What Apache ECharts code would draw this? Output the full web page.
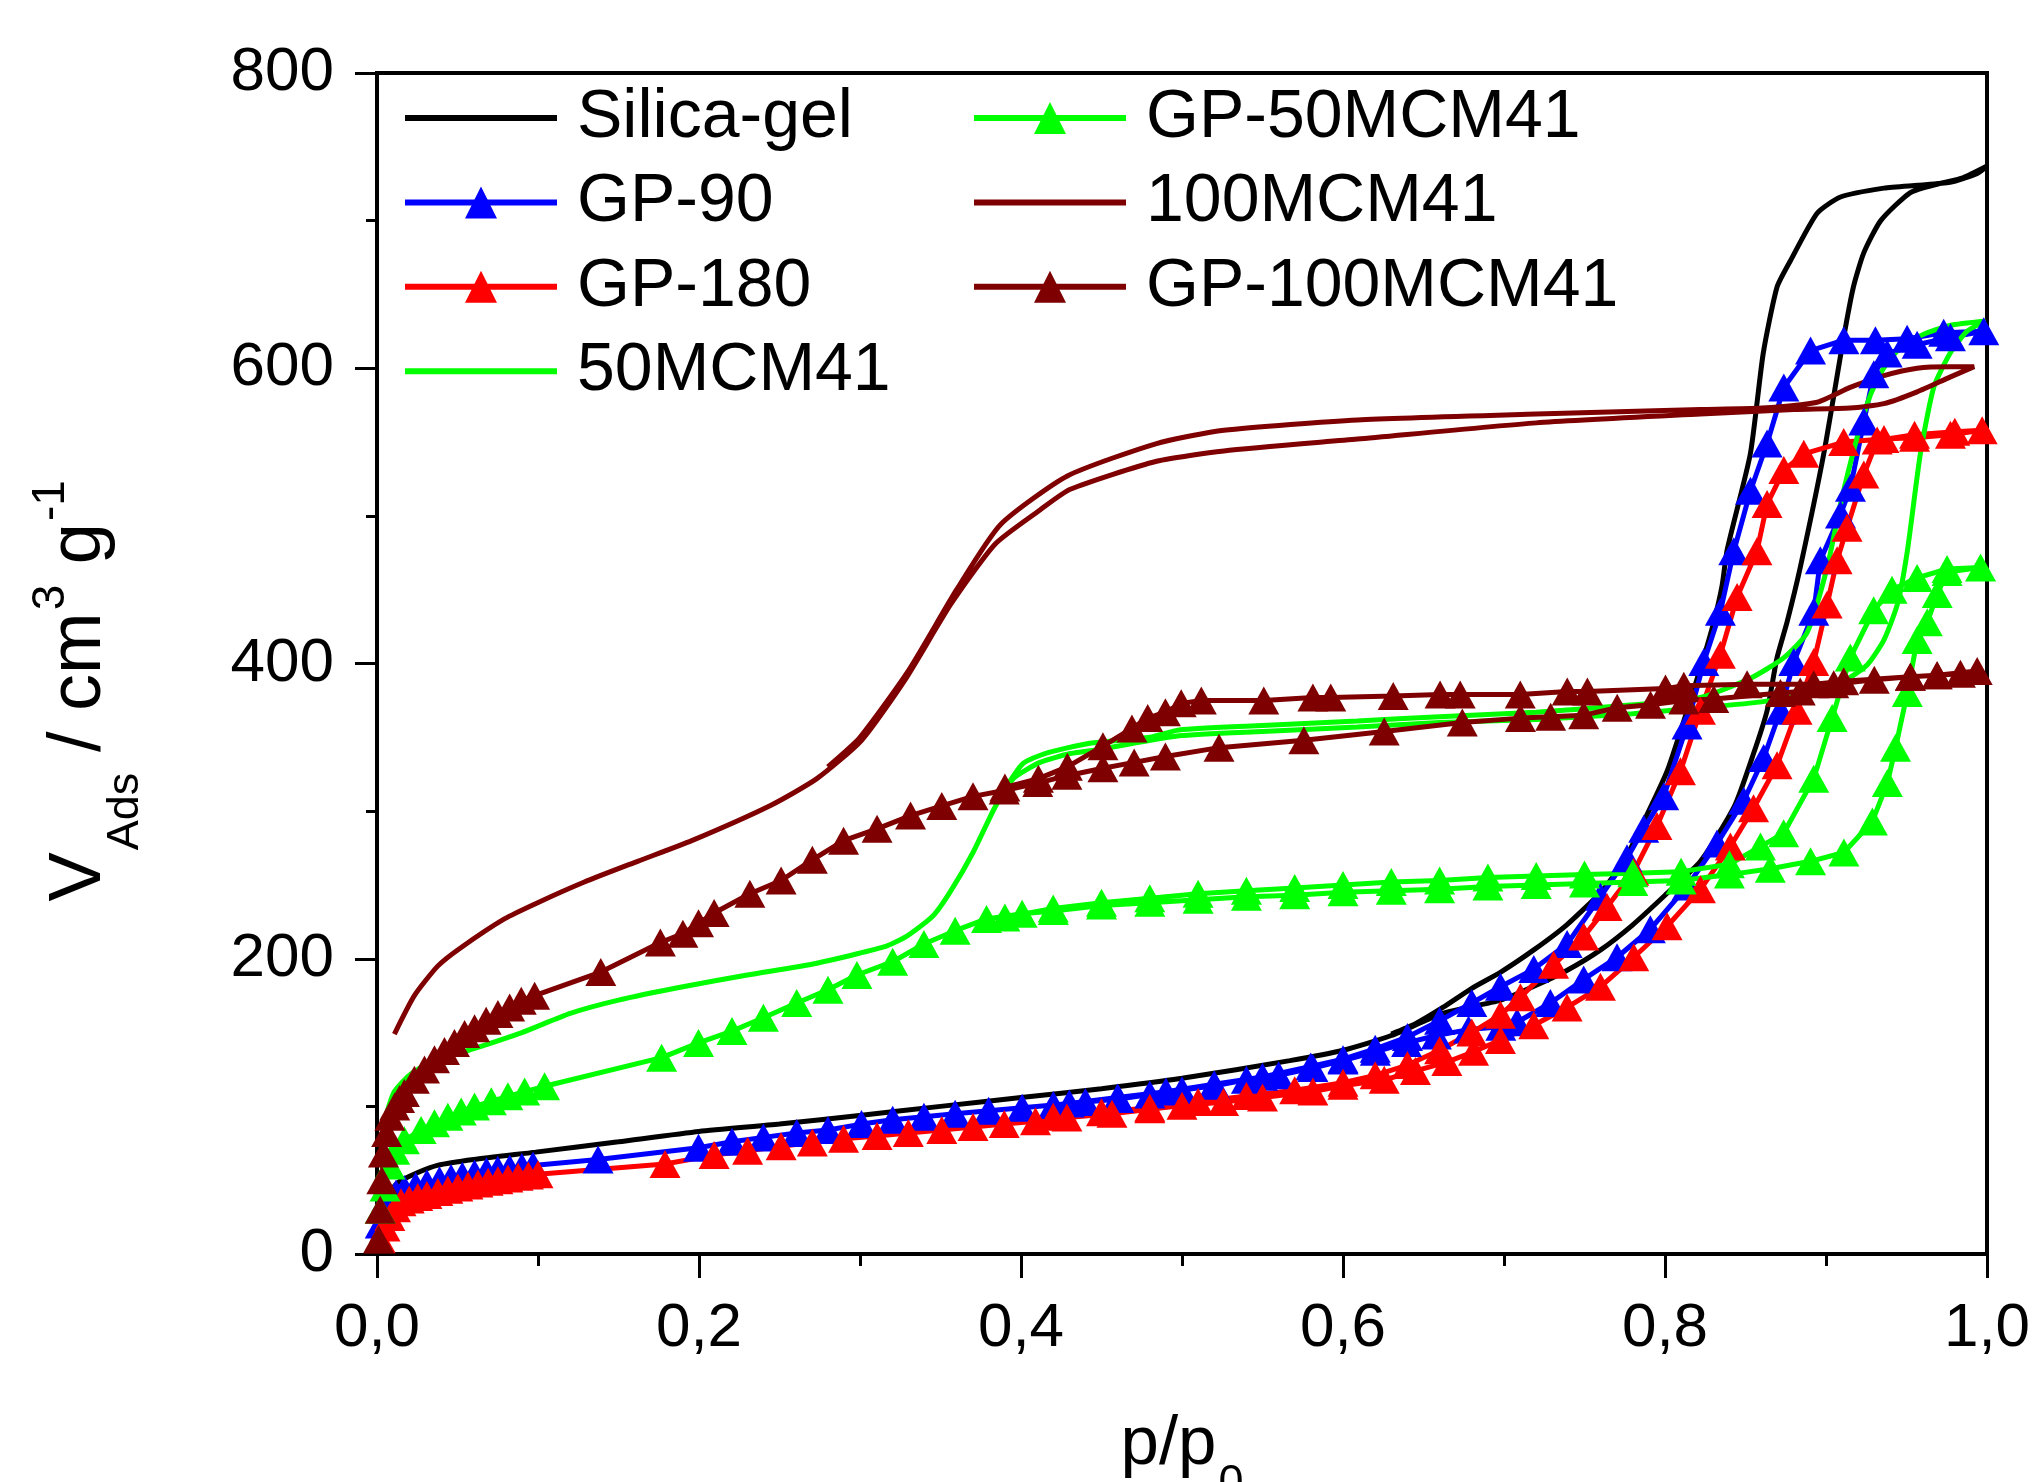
<!DOCTYPE html>
<html>
<head>
<meta charset="utf-8">
<script src="https://cdn.jsdelivr.net/npm/echarts@6/dist/echarts.min.js"></script>
<style>
html,body{margin:0;padding:0;background:#fff;}
#chart{width:2036px;height:1482px;}
</style>
</head>
<body>
<div id="chart"></div>
<script>
// ---------- tick labels ----------
const xTickValues = [0, 0.2, 0.4, 0.6, 0.8, 1.0];
const xTickLabels = ['0,0', '0,2', '0,4', '0,6', '0,8', '1,0'];
const yTickValues = [0, 200, 400, 600, 800];
const yTickLabels = ['0', '200', '400', '600', '800'];

// ---------- series names ----------
const legendCol1 = ['Silica-gel', 'GP-90', 'GP-180', '50MCM41'];
const legendCol2 = ['GP-50MCM41', '100MCM41', 'GP-100MCM41'];
const lineOnlyNames = ['Silica-gel', '50MCM41', '100MCM41'];

// ---------- data: [p/p0, V_ads] ----------
// Silica-gel (line)
const silicaGelAds = [[0.003,25],[0.006,38],[0.0125,48],[0.025,55],[0.0375,60],[0.06,64],[0.0985,69],[0.15,76],[0.2,83],[0.25,88],[0.301,94],[0.35,100],[0.4,106],[0.45,112],[0.5,119],[0.567,131],[0.6,138],[0.63,148],[0.662,163],[0.698,172],[0.72,182],[0.739,192],[0.76,206],[0.78,223],[0.80,243],[0.822,266],[0.843,303],[0.855,339],[0.8634,368],[0.8696,404],[0.8758,428],[0.884,465],[0.8986,542],[0.911,621],[0.917,655],[0.9234,678],[0.934,700],[0.9524,719],[0.97,725],[0.985,729],[1.0,737]];
const silicaGelDes = [[0.994,732],[0.977,726],[0.957,724],[0.936,722],[0.909,716],[0.8945,705],[0.878,673],[0.8696,655],[0.861,610],[0.853,542],[0.8386,477],[0.8355,453],[0.8303,428],[0.824,404],[0.8137,368],[0.8013,327],[0.7868,293],[0.7744,266],[0.76,245],[0.739,223],[0.7185,206],[0.698,191],[0.68,180],[0.662,167],[0.645,156],[0.63,149]];

// GP-90 (triangles)
const gp90Ads = [[0.002,20],[0.005,30],[0.008,36],[0.0118,41],[0.017,44],[0.024,46],[0.031,48],[0.0388,50],[0.046,51.5],[0.053,53],[0.0606,54.5],[0.068,56],[0.075,57],[0.0824,58],[0.09,59],[0.0969,60],[0.1373,64],[0.1997,72],[0.2205,76],[0.24,79],[0.2607,82],[0.2801,84],[0.3009,88],[0.3203,91],[0.3397,93],[0.3591,95],[0.3799,97],[0.4007,99],[0.4201,101],[0.44,103],[0.4607,105],[0.48,108],[0.5,111],[0.5203,114],[0.54,118],[0.56,121],[0.5813,126],[0.60,131],[0.6201,137],[0.6395,143],[0.658,148],[0.678,152],[0.698,154],[0.7081,157],[0.7288,170],[0.7495,186],[0.7702,201],[0.7909,220],[0.8137,249],[0.8323,278],[0.8489,307],[0.8613,336],[0.8717,368],[0.88,401],[0.8924,435],[0.8965,470],[0.909,501],[0.9152,519],[0.9235,564],[0.9297,596],[0.938,610],[0.9566,616],[0.9773,621],[0.998,625]];
const gp90Des = [[0.9731,624],[0.9504,620],[0.9307,619],[0.9111,619],[0.8904,612],[0.8738,587],[0.8634,549],[0.8531,517],[0.8427,476],[0.8344,435],[0.8241,401],[0.8137,358],[0.7992,310],[0.7868,288],[0.7764,268],[0.7599,242],[0.7392,210],[0.7185,193],[0.6978,181],[0.68,170],[0.66,158],[0.64,147],[0.62,139],[0.60,132],[0.58,127],[0.55,120],[0.52,115],[0.49,110],[0.46,106],[0.43,102]];

// GP-180 (triangles)
const gp180Ads = [[0.002,10],[0.005,18],[0.008,25],[0.0115,31],[0.0149,35],[0.02,37],[0.0253,38.6],[0.031,40],[0.0378,42],[0.044,43.5],[0.0502,45],[0.0565,46.4],[0.0627,47.7],[0.069,49],[0.0751,50],[0.0813,51.2],[0.0876,52.3],[0.094,53.2],[0.1,54],[0.1789,61],[0.2094,67],[0.2302,70],[0.251,73],[0.2704,75.5],[0.2898,78],[0.3106,80],[0.33,82],[0.3508,84],[0.3702,86],[0.3896,88],[0.409,90],[0.4285,92.5],[0.4565,95],[0.48,98],[0.5,100.5],[0.5258,103],[0.55,106],[0.5813,110],[0.60,114],[0.6256,118],[0.645,124],[0.6645,130],[0.6811,137],[0.6978,145],[0.7185,155],[0.7392,167],[0.7599,181],[0.7806,201],[0.8013,222],[0.822,247],[0.8406,276],[0.855,302],[0.8696,331],[0.882,368],[0.8924,401],[0.9007,440],[0.9069,470],[0.9131,492],[0.9235,528],[0.9318,551],[0.955,555],[0.98,557],[0.997,558]];
const gp180Des = [[0.9773,555],[0.955,553],[0.936,552],[0.911,550],[0.8862,542],[0.8738,531],[0.8634,508],[0.8571,476],[0.8448,445],[0.8344,406],[0.822,368],[0.8096,327],[0.795,290],[0.7806,259],[0.764,235],[0.7495,215],[0.7308,196],[0.7102,174],[0.6978,162],[0.68,150],[0.66,138],[0.64,128],[0.62,121],[0.60,116],[0.57,111],[0.54,107],[0.51,103],[0.48,99],[0.45,96],[0.42,93]];

// 50MCM41 (line)
const mcm50Ads = [[0.003,70],[0.006,95],[0.0108,110],[0.02,121],[0.035,131],[0.0597,139],[0.09,150],[0.12,163],[0.15,172],[0.19,181],[0.23,189],[0.2732,197],[0.3148,208],[0.3286,215],[0.3453,229],[0.3564,246],[0.3702,272],[0.384,303],[0.3952,322],[0.4118,333],[0.4306,339],[0.45,342],[0.4981,351],[0.55,354],[0.609,357],[0.66,360],[0.72,362],[0.78,366],[0.822,370],[0.86,374],[0.8904,380],[0.9111,388],[0.9255,399],[0.936,416],[0.9443,440],[0.9505,476],[0.9586,542],[0.9669,587],[0.977,610],[0.9875,625],[0.999,632]];
const mcm50Des = [[0.977,629],[0.9607,623],[0.9462,614],[0.9358,600],[0.9276,582],[0.9193,553],[0.909,508],[0.9007,465],[0.8883,421],[0.8739,404],[0.8531,390],[0.822,377],[0.78,372],[0.72,367],[0.66,364],[0.609,361],[0.55,358],[0.4981,355],[0.48,350],[0.4427,346],[0.4149,339],[0.401,332],[0.3872,310]];

// GP-50MCM41 (triangles)
const gp50Ads = [[0.002,30],[0.005,45],[0.008,60],[0.011,70],[0.017,77],[0.0274,84],[0.0357,88.6],[0.044,93],[0.0523,96.6],[0.0606,100],[0.071,103.4],[0.0813,106.8],[0.0917,110],[0.1041,113.6],[0.1768,133],[0.1997,143],[0.2205,151],[0.24,160],[0.2607,170],[0.2801,179],[0.2981,189],[0.3203,198],[0.3397,210],[0.3591,219],[0.3786,227],[0.4007,230.5],[0.4201,232.4],[0.45,236],[0.48,238],[0.51,240],[0.54,242],[0.57,243],[0.60,245],[0.63,246],[0.66,247],[0.69,249],[0.72,250],[0.75,251],[0.78,252],[0.81,253],[0.84,257],[0.8654,261],[0.8904,266],[0.9111,272],[0.9288,293],[0.9381,319],[0.9432,343],[0.9505,380],[0.9566,416],[0.9629,428],[0.9691,447],[0.9752,462],[0.996,465]];
const gp50Des = [[0.9752,464],[0.9566,458],[0.941,450],[0.9296,436],[0.9151,404],[0.9038,363],[0.8924,322],[0.8737,285],[0.8593,276],[0.84,264],[0.81,259],[0.78,258],[0.75,257],[0.72,256],[0.69,255],[0.66,253],[0.63,252],[0.60,250],[0.57,248],[0.54,246],[0.51,244],[0.48,241],[0.45,238],[0.42,234],[0.39,228]];

// 100MCM41 (line)
const mcm100Ads = [[0.0108,149],[0.0232,175],[0.0377,195],[0.0514,207],[0.0791,227],[0.0998,238],[0.1288,252],[0.1619,266],[0.1955,280],[0.2447,304],[0.2732,322],[0.301,348],[0.3286,390],[0.3563,440],[0.384,481],[0.4118,504],[0.4306,518],[0.4842,537],[0.526,544],[0.609,552],[0.72,563],[0.822,569],[0.88,572],[0.915,573],[0.936,576],[0.9566,584],[0.977,594],[0.992,601]];
const mcm100Des = [[0.977,601],[0.9566,600],[0.936,595],[0.915,587],[0.8945,577],[0.86,573],[0.822,572],[0.72,569],[0.609,565],[0.526,558],[0.4842,549],[0.4288,527],[0.3872,494],[0.36,450],[0.33,395],[0.30,350],[0.28,330]];

// GP-100MCM41 (triangles)
const gp100Ads = [[0.001,10],[0.002,30],[0.003,50],[0.004,68],[0.006,82],[0.008,93],[0.011,100],[0.014,105],[0.017,109],[0.0232,118],[0.0295,125],[0.0357,132],[0.0419,137.5],[0.0481,143],[0.0544,149],[0.0606,153],[0.0678,158],[0.0751,162.5],[0.0824,167],[0.0896,171.6],[0.0979,175],[0.139,191],[0.176,211],[0.19,217],[0.1997,224],[0.2094,231],[0.2316,244],[0.251,253],[0.2704,267],[0.2898,280],[0.3106,288],[0.3314,297],[0.3508,303.5],[0.3702,310],[0.3896,314],[0.4104,319],[0.4285,324],[0.4509,329],[0.4703,333],[0.4897,337],[0.523,343],[0.5757,348],[0.6256,354],[0.6741,360],[0.7102,363],[0.729,364],[0.7495,365],[0.7703,370],[0.791,372],[0.8117,375],[0.8303,376],[0.8717,380],[0.884,381],[0.9048,386],[0.93,389],[0.9524,391],[0.969,392],[0.9835,393],[0.9939,395]];
const gp100Des = [[0.969,392],[0.9524,391],[0.911,388],[0.8924,386],[0.851,386],[0.8117,385],[0.8003,383],[0.7518,381],[0.7393,381],[0.7101,379],[0.6728,379],[0.6603,379],[0.6312,378],[0.5924,377],[0.5813,377],[0.5508,375],[0.512,375],[0.4995,373],[0.4897,367],[0.4787,363],[0.4689,356],[0.4509,344],[0.4288,330],[0.4108,322],[0.39,316]];

// ---------- styling ----------
const FONT = '"Liberation Sans", Arial, Helvetica, sans-serif';
const COLORS = {
  'Silica-gel': '#000000',
  'GP-90': '#0000FF',
  'GP-180': '#FF0000',
  '50MCM41': '#00FF00',
  'GP-50MCM41': '#00FF00',
  '100MCM41': '#7F0000',
  'GP-100MCM41': '#7F0000'
};

function makeSeries(name, ads, des, marker) {
  const color = COLORS[name];
  return {
    name: name,
    type: 'line',
    data: ads.concat(des),
    symbol: marker ? 'triangle' : 'none',
    symbolSize: [31, 28],
    showSymbol: marker,
    smooth: marker ? false : 0.2,
    lineStyle: { color: color, width: 5 },
    itemStyle: { color: color },
    emphasis: { disabled: true },
    animation: false,
    clip: false
  };
}

const series = [
  makeSeries('Silica-gel', silicaGelAds, silicaGelDes, false),
  makeSeries('GP-90', gp90Ads, gp90Des, true),
  makeSeries('GP-180', gp180Ads, gp180Des, true),
  makeSeries('50MCM41', mcm50Ads, mcm50Des, false),
  makeSeries('GP-50MCM41', gp50Ads, gp50Des, true),
  makeSeries('100MCM41', mcm100Ads, mcm100Des, false),
  makeSeries('GP-100MCM41', gp100Ads, gp100Des, true)
];

function legendItems(names) {
  return names.map(function (n) {
    if (lineOnlyNames.indexOf(n) >= 0) {
      return { name: n, itemStyle: { opacity: 0, color: 'rgba(0,0,0,0)', borderWidth: 0 } };
    }
    return { name: n };
  });
}

function legendBlock(names, left) {
  return {
    data: legendItems(names),
    orient: 'vertical',
    left: left,
    top: 84,
    padding: 0,
    itemWidth: 152,
    itemHeight: 40,
    itemGap: 16.4,
    selectedMode: false,
    lineStyle: { width: 6 },
    textStyle: {
      fontFamily: FONT,
      fontSize: 68,
      color: '#000',
      lineHeight: 68,
      padding: [0, 0, 0, 15]
    }
  };
}

function lookupLabel(values, labels) {
  return function (v) {
    for (let i = 0; i < values.length; i++) {
      if (Math.abs(values[i] - v) < 1e-6) return labels[i];
    }
    return '';
  };
}

const option = {
  backgroundColor: '#ffffff',
  animation: false,
  grid: {
    left: 377, right: 49, top: 73, bottom: 228,
    show: true, borderColor: '#000', borderWidth: 4,
    containLabel: false,
    outerBoundsMode: 'none'
  },
  legend: [legendBlock(legendCol1, 402), legendBlock(legendCol2, 971)],
  xAxis: {
    type: 'value',
    min: 0, max: 1, interval: 0.2,
    name: '{n|p/p}{s|0}',
    nameLocation: 'middle',
    nameGap: 156,
    nameTextStyle: {
      rich: {
        n: { fontFamily: FONT, fontSize: 69, lineHeight: 69, color: '#000', verticalAlign: 'top' },
        s: { fontFamily: FONT, fontSize: 45, color: '#000', verticalAlign: 'top', padding: [51, 0, 0, 2] }
      }
    },
    axisLine: { show: true, onZero: false, lineStyle: { color: '#000', width: 4 } },
    axisTick: { show: true, inside: false, length: 24, lineStyle: { color: '#000', width: 3 } },
    minorTick: { show: true, splitNumber: 2, length: 12, lineStyle: { color: '#000', width: 3 } },
    splitLine: { show: false },
    axisLabel: {
      margin: 44,
      fontFamily: FONT, fontSize: 62, color: '#000',
      formatter: lookupLabel(xTickValues, xTickLabels)
    }
  },
  yAxis: {
    type: 'value',
    min: 0, max: 800, interval: 200,
    name: '{p|} {n|V}{s|Ads}{n| / cm}{p|3}{n| g}{p|-1}',
    nameLocation: 'middle',
    nameGap: 229,
    nameTextStyle: {
      padding: [0, 60, 0, 0],
      rich: {
        n: { fontFamily: FONT, fontSize: 74, color: '#000', verticalAlign: 'top', padding: [15, 0, 0, 0] },
        s: { fontFamily: FONT, fontSize: 45, color: '#000', verticalAlign: 'top', padding: [75, 0, 0, 2] },
        p: { fontFamily: FONT, fontSize: 46, color: '#000', verticalAlign: 'top', padding: [0, 0, 0, 2] }
      }
    },
    axisLine: { show: true, onZero: false, lineStyle: { color: '#000', width: 4 } },
    axisTick: { show: true, inside: false, length: 22, lineStyle: { color: '#000', width: 3 } },
    minorTick: { show: true, splitNumber: 2, length: 11, lineStyle: { color: '#000', width: 3 } },
    splitLine: { show: false },
    axisLabel: {
      margin: 43,
      fontFamily: FONT, fontSize: 62, color: '#000',
      formatter: lookupLabel(yTickValues, yTickLabels)
    }
  },
  series: series
};

const chart = echarts.init(document.getElementById('chart'), null, { renderer: 'canvas', width: 2036, height: 1482 });
chart.setOption(option);
</script>
</body>
</html>
